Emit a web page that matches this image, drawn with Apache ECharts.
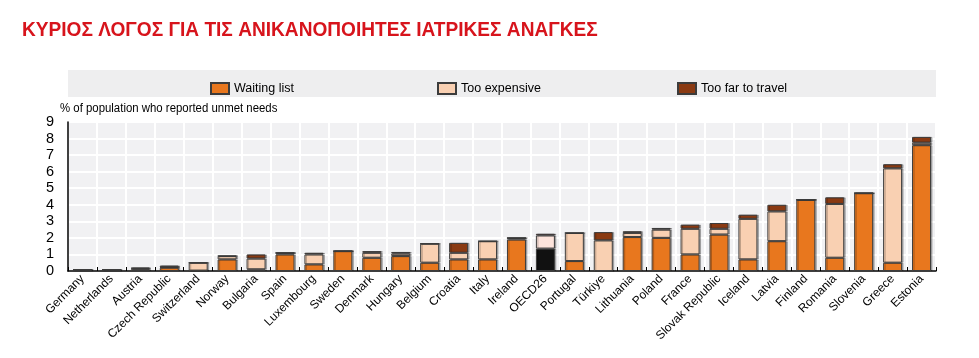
<!DOCTYPE html>
<html><head><meta charset="utf-8">
<script src="https://cdn.jsdelivr.net/npm/echarts@6/dist/echarts.min.js"></script>
<style>html,body{margin:0;padding:0;background:#fff}#c{width:979px;height:358px}</style>
</head><body><div id="c"></div>
<script>
var categories = ['Germany','Netherlands','Austria','Czech Republic','Switzerland','Norway','Bulgaria','Spain','Luxembourg','Sweden','Denmark','Hungary','Belgium','Croatia','Italy','Ireland','OECD26','Portugal','Türkiye','Lithuania','Poland','France','Slovak Republic','Iceland','Latvia','Finland','Romania','Slovenia','Greece','Estonia'];
var waitingList = [0.03,0.03,0.1,0.2,0.02,0.7,0.1,1.0,0.4,1.2,0.8,0.9,0.5,0.7,0.7,1.9,1.35,0.6,0.0,2.05,2.0,1.0,2.2,0.7,1.8,4.3,0.8,4.7,0.5,7.6];
var tooExpensive = [0.05,0.05,0.05,0.03,0.48,0.2,0.65,0.1,0.6,0.0,0.3,0.15,1.15,0.4,1.1,0.1,0.8,1.7,1.85,0.25,0.5,1.55,0.35,2.45,1.8,0.0,3.25,0.0,5.7,0.15];
var tooFar = [0.02,0.02,0.05,0.1,0.0,0.02,0.25,0.0,0.1,0.0,0.1,0.1,0.0,0.6,0.0,0.0,0.1,0.0,0.5,0.1,0.1,0.25,0.35,0.25,0.4,0.0,0.4,0.0,0.25,0.35];
var yTicks = [0,1,2,3,4,5,6,7,8,9];

var highlight = 'OECD26';
var font = "'Liberation Sans',Arial,sans-serif";
function mk(vals, hiColor){
  return vals.map(function(v,i){
    if(categories[i]===highlight) return {value:v, itemStyle:{color:hiColor}};
    return v;
  });
}
var border = {borderColor:'#3c3c3c', borderWidth:1, shadowColor:'rgba(0,0,0,0.25)', shadowOffsetX:1.5, shadowOffsetY:0, shadowBlur:0};
var lg = {itemWidth:18, itemHeight:11, icon:'rect', textStyle:{fontSize:12.5,color:'#000',fontFamily:font}};
var chart = echarts.init(document.getElementById('c'));
chart.setOption({
  animation:false,
  textStyle:{fontFamily:font},
  graphic:[
    {type:'rect', shape:{x:68,y:70,width:868,height:27}, style:{fill:'#eeeeef'}, z:-1},
    {type:'text', x:22, y:20, scaleX:0.91, style:{text:'ΚΥΡΙΟΣ ΛΟΓΟΣ ΓΙΑ ΤΙΣ ΑΝΙΚΑΝΟΠΟΙΗΤΕΣ ΙΑΤΡΙΚΕΣ ΑΝΑΓΚΕΣ', font:'bold 21px '+font, fill:'#d7141c'}},
    {type:'text', x:60, y:103, scaleX:0.95, style:{text:'% of population who reported unmet needs', font:'12px '+font, fill:'#000'}}
  ],
  legend:[
    Object.assign({data:['Waiting list'], left:205, top:77}, lg),
    Object.assign({data:['Too expensive'], left:432, top:77}, lg),
    Object.assign({data:['Too far to travel'], left:672, top:77}, lg)
  ],
  grid:{left:68, right:43, top:122, bottom:87, show:true, backgroundColor:'#f1f1f3', borderColor:'#555', borderWidth:1},
  xAxis:{type:'category', data:categories, boundaryGap:true,
    axisLine:{lineStyle:{color:'#000', width:1.5}},
    axisTick:{show:true, inside:true, length:4, lineStyle:{color:'#000'}},
    splitLine:{show:true, lineStyle:{color:'#fff', width:2}},
    axisLabel:{rotate:45, fontSize:12, color:'#000', margin:6, interval:0, fontFamily:font}},
  yAxis:{type:'value', min:yTicks[0], max:yTicks[yTicks.length-1], interval:1,
    axisLine:{show:true, lineStyle:{color:'#000', width:1.5}},
    axisTick:{show:false},
    splitLine:{show:true, lineStyle:{color:'#fff', width:2}},
    axisLabel:{fontSize:14.5, color:'#000', margin:14, fontFamily:font}},
  series:[
    {name:'Waiting list', type:'bar', stack:'a', barWidth:19, data:mk(waitingList,'#111111'), itemStyle:Object.assign({color:'#e8771e'},border)},
    {name:'Too expensive', type:'bar', stack:'a', barWidth:19, data:mk(tooExpensive,'#fde4dc'), itemStyle:Object.assign({color:'#f9d0b2'},border)},
    {name:'Too far to travel', type:'bar', stack:'a', barWidth:19, data:mk(tooFar,'#b21d1d'), itemStyle:Object.assign({color:'#8a3a12'},border)}
  ]
});
</script></body></html>
